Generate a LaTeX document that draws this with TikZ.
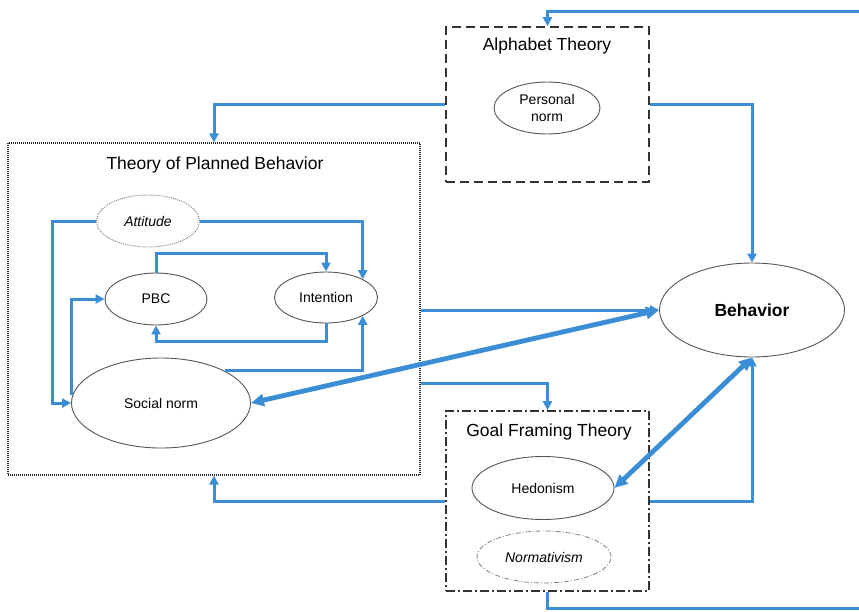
\documentclass[tikz,border=0pt]{standalone}
\usepackage{fontspec}
\setmainfont{Liberation Sans}
\usetikzlibrary{shapes.geometric,arrows.meta,calc}
\definecolor{conblue}{RGB}{59,142,213}
\definecolor{edgegray}{RGB}{85,85,85}
\begin{document}
\begin{tikzpicture}[x=1pt,y=-1pt,
  ell/.style={ellipse,draw=edgegray,line width=0.9pt,inner sep=0pt,font=\fontsize{14}{16.5}\selectfont,align=center},
  ttl/.style={font=\fontsize{17.5}{20}\selectfont,inner sep=0pt},
  con/.style={draw=conblue,line width=3pt,-{Triangle[length=9pt,width=9pt]}},
  thick con/.style={draw=conblue,line width=4.8pt,{Triangle[length=13pt,width=12pt]}-{Triangle[length=13pt,width=12pt]}},
  plain con/.style={draw=conblue,line width=3pt},
  tpbbox/.style={rectangle,draw=black!85,line width=1.2pt,dash pattern=on 1pt off 1pt,inner sep=0pt},
  alphabox/.style={rectangle,draw=black!80,line width=1.6pt,dash pattern=on 9pt off 5pt,inner sep=0pt},
  gftbox/.style={rectangle,draw=black!80,line width=1.6pt,dash pattern=on 9pt off 3pt on 2pt off 3pt,inner sep=0pt}
]
\useasboundingbox (0,0) rectangle (859,611);

% boxes
\node[tpbbox,minimum width=412pt,minimum height=332pt] (tpb) at (214,309) {};
\node[alphabox,minimum width=203pt,minimum height=155pt] (alpha) at (547.5,104.5) {};
\node[gftbox,minimum width=203pt,minimum height=180pt] (gft) at (547.5,501) {};

% titles
\node[ttl] (tpbt) at (215,165) {Theory of Planned Behavior};
\node[ttl] (alphat) at (547,46) {Alphabet Theory};
\node[ttl] (gftt) at (549,432) {Goal Framing Theory};

% ellipses
\node[ell,draw=gray,dash pattern=on 1pt off 1pt,minimum width=103pt,minimum height=52pt] (att) at (148,221) {\itshape Attitude};
\node[ell,minimum width=102pt,minimum height=52pt] (pbc) at (156,299) {PBC};
\node[ell,minimum width=103pt,minimum height=51pt] (int) at (326,297.5) {Intention};
\node[ell,minimum width=179pt,minimum height=90pt] (sn) at (161,403) {Social norm};
\node[ell,minimum width=106pt,minimum height=52pt] (pn) at (547,108) {Personal\\norm};
\node[ell,minimum width=185pt,minimum height=94pt,font=\fontsize{17.5}{20}\selectfont\bfseries] (beh) at (752,310) {Behavior};
\node[ell,minimum width=142pt,minimum height=63pt] (hed) at (543,488) {Hedonism};
\node[ell,draw=gray,line width=0.8pt,dash pattern=on 5pt off 2pt on 1pt off 2pt,minimum width=134pt,minimum height=52pt] (norm) at (544,557) {\itshape Normativism};

% free ends at the right edge
\coordinate (topR) at (864,11);
\coordinate (botR) at (864,608);

% TPB internal connectors
\draw[con] (att.west) -- ++(-44,0) |- (sn.west);
\draw[con] (att.east) -| (int.north east);
\draw[con] (pbc.north) -- ++(0,-19) -| (int.north);
\draw[con] (int.south) -- ++(0,18) -| (pbc.south);
\draw[con] ([yshift=8pt]sn.west) |- (pbc.west);
\draw[con] (sn.north east) -| (int.south east);

% outer connectors
\draw[con] (topR) -| (alpha.north);
\draw[con] (alpha.west) -| (tpb.north);
\draw[con] (alpha.east) -| (beh.north);
\draw[con] (tpb.east |- beh.west) -- (beh.west);
\draw[con] ($(tpb.east)+(0,74)$) -| (gft.north);
\draw[con] (gft.west) -| (tpb.south);
\draw[con] (gft.east) -| (beh.south);
\draw[plain con] (gft.south) |- (botR);

% thick double arrows
\draw[thick con] (beh.west) -- (sn.east);
\draw[thick con] (beh.south) -- (hed.east);
\end{tikzpicture}
\end{document}
